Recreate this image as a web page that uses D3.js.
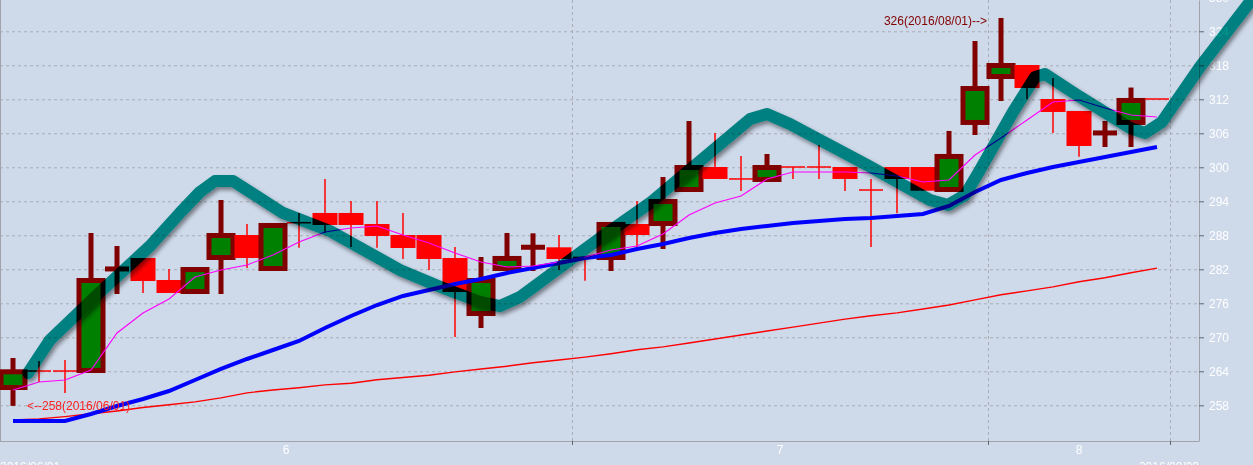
<!DOCTYPE html>
<html><head><meta charset="utf-8">
<script src="https://cdn.jsdelivr.net/npm/d3@7"></script>
<style>
html,body{margin:0;padding:0;background:#CED9EA;overflow:hidden;}
svg{display:block;font-family:"Liberation Sans",Arial,sans-serif;}
</style></head><body>
<svg id="chart" width="1253" height="465"></svg>
<script>
const dates = [
 "2016/06/01","2016/06/02","2016/06/03","2016/06/06","2016/06/07","2016/06/08","2016/06/09","2016/06/10",
 "2016/06/13","2016/06/14","2016/06/15","2016/06/16","2016/06/17","2016/06/20","2016/06/21","2016/06/22",
 "2016/06/23","2016/06/24","2016/06/27","2016/06/28","2016/06/29","2016/06/30",
 "2016/07/01","2016/07/04","2016/07/05","2016/07/06","2016/07/07","2016/07/08","2016/07/11","2016/07/12",
 "2016/07/13","2016/07/14","2016/07/15","2016/07/18","2016/07/19","2016/07/20","2016/07/21","2016/07/22",
 "2016/08/01","2016/08/02","2016/08/03","2016/08/04","2016/08/05","2016/08/08","2016/08/09"];
const openV  = [261.14,264.06,264.06,264.14,282.05,283.99,280.11,278.08,284.08,288.05,282.14,290.23,291.94,291.94,289.99,288.05,288.05,283.99,274.2,282.14,285.88,285.88,284.11,284.08,289.99,290.08,296.08,300.05,297.95,297.85,300.06,300.06,300.05,296.0,300.05,300.05,296.08,307.91,316.02,318.05,312.05,309.94,306.05,307.91,312.06];
const highV  = [266.35,265.82,265.99,288.41,286.11,283.99,282.05,281.96,294.23,289.99,289.73,291.94,297.94,294.05,294.05,291.94,288.05,285.94,284.17,288.41,288.35,288.05,284.2,289.91,294.05,298.29,308.17,306.05,301.99,302.35,300.06,303.93,300.05,297.94,300.05,300.05,306.41,322.29,326.35,318.05,315.76,309.94,308.17,314.07,312.06];
const lowV   = [257.9,262.11,260.17,264.14,277.64,277.82,277.82,278.08,277.64,282.23,282.14,285.81,288.41,285.94,285.81,283.82,281.88,270.05,271.64,282.14,281.7,281.88,279.99,281.7,285.94,285.58,296.08,297.94,295.82,297.85,297.94,297.94,295.82,285.94,291.88,295.87,296.08,305.7,311.7,312.05,306.05,301.88,303.58,303.58,312.05];
const closeV = [263.91,264.05,264.05,280.02,282.06,279.93,277.82,281.96,287.96,283.99,289.73,290.22,289.82,289.82,287.88,285.76,283.82,277.99,280.02,283.91,285.89,283.82,284.1,289.91,288.05,293.96,299.96,297.94,297.94,299.96,300.05,300.05,297.94,295.99,297.94,295.87,301.91,313.9,317.96,313.99,309.76,303.76,306.06,311.79,312.05];
const maShort = [260.70,262.11,262.46,264.23,270.76,274.29,276.76,280.64,281.88,282.76,284.53,286.82,288.59,289.29,289.64,288.05,286.64,284.88,283.29,282.41,282.58,283.29,284.17,285.41,286.11,288.23,291.58,293.70,294.93,297.93,299.17,299.17,299.17,299.0,298.46,297.40,297.76,302.17,305.17,308.35,311.52,311.88,310.47,309.23,308.88];
const maMid = [255.23,255.23,255.23,256.46,257.88,259.11,260.52,262.46,264.41,266.17,267.76,269.35,271.64,273.76,275.7,277.29,278.35,279.41,280.29,281.35,282.23,283.11,283.99,284.52,285.58,286.46,287.52,288.41,289.11,289.64,290.17,290.52,290.88,291.05,291.41,291.76,293.17,295.64,297.76,299.0,300.05,300.94,301.82,302.70,303.58];
const maLong = [255.4,255.6,256.0,256.5,257.0,257.6,258.1,258.6,259.3,260.2,260.7,261.1,261.6,261.9,262.5,262.9,263.3,263.9,264.4,264.9,265.5,266.0,266.5,267.1,267.8,268.3,269.0,269.7,270.4,271.1,271.8,272.5,273.2,273.8,274.3,275.0,275.7,276.6,277.5,278.2,278.9,279.8,280.5,281.4,282.2];
const trendIdx = [0.58,1.42,3.35,5.27,6.42,7.19,7.77,8.46,10.38,12.19,14.88,16.54,17.96,18.73,19.5,22.58,24.5,28.35,29.0,29.88,32.85,35.27,35.96,36.62,37.19,38.46,39.31,39.69,41.04,42.96,43.54,44.19,45.65,47.81];
const trendVal = [263.70,269.52,278.0,286.11,291.94,295.64,297.58,297.58,291.94,288.76,281.88,278.7,276.23,275.52,277.11,287.52,293.7,308.52,309.41,307.64,300.41,294.23,293.35,295.11,299.52,309.76,315.94,316.47,312.41,306.94,306.05,308.0,317.7,330.58];
const yTicks = [258,264,270,276,282,288,294,300,306,312,318,324,330];
const monthStarts = ["2016/06/01","2016/07/01","2016/08/01"];
const monthLabels = ["6","7","8"];

const svg = d3.select("#chart");
const plotR = 1199, plotB = 441;
const x = d3.scaleBand().domain(dates).range([0, 1170]).padding(0);
const bw = x.bandwidth();
const xc = d => x(d) + bw / 2;
const xi = d3.scaleLinear().domain([0, dates.length - 1]).range([xc(dates[0]), xc(dates[dates.length - 1])]);
const xb = d3.scaleLinear().domain([0, dates.length]).range([0, 1170]);
const y = d3.scaleLinear().domain([251.7, 329.52]).range([plotB, 0]);

// horizontal grid
const hg = svg.append("g").call(d3.axisLeft(y).tickValues(yTicks).tickSize(-plotR).tickFormat(""));
hg.select(".domain").remove();
hg.selectAll("line").attr("stroke", "#a9adb3").attr("stroke-dasharray", "3,3");

// vertical grid at month boundaries
const mIdx = monthStarts.map(d => dates.indexOf(d));
const bounds = mIdx.slice(1).concat([dates.length]);
const vg = svg.append("g").attr("transform", `translate(0,${plotB})`)
  .call(d3.axisBottom(xb).tickValues(bounds).tickSize(-plotB).tickFormat(""));
vg.select(".domain").remove();
vg.selectAll("line").attr("stroke", "#a9adb3").attr("stroke-dasharray", "3,3");

// frame
svg.append("line").attr("x1", 0.5).attr("x2", 0.5).attr("y1", 0).attr("y2", plotB).attr("stroke", "#a0a4aa");
svg.append("line").attr("x1", 0).attr("x2", plotR).attr("y1", plotB + 0.5).attr("y2", plotB + 0.5).attr("stroke", "#a0a4aa");

// bottom ticks
const bt = svg.append("g").attr("transform", `translate(0,${plotB})`)
  .call(d3.axisBottom(xb).tickValues(bounds).tickSize(4).tickFormat(""));
bt.select(".domain").remove();
bt.selectAll("line").attr("stroke", "#5f6670");

// month labels
const mCenters = mIdx.map((s, k) => (s + bounds[k]) / 2);
svg.append("g").selectAll("text").data(monthLabels).join("text")
  .attr("x", (d, k) => xb(mCenters[k])).attr("y", 454)
  .attr("text-anchor", "middle").attr("fill", "#ffffff").attr("font-size", 12).text(d => d);
svg.append("text").attr("x", 0).attr("y", 471).attr("fill", "#ffffff").attr("font-size", 12).text(dates[0]);
svg.append("text").attr("x", plotR).attr("y", 471).attr("text-anchor", "end").attr("fill", "#ffffff").attr("font-size", 12).text(dates[dates.length - 1]);

// right axis
const ra = svg.append("g").attr("transform", `translate(${plotR},0)`)
  .call(d3.axisRight(y).tickValues(yTicks).tickSize(5).tickPadding(5).tickSizeOuter(0));
ra.select(".domain").attr("stroke", "#a0a4aa");
ra.selectAll("line").attr("stroke", "#5f6670");
ra.selectAll("text").attr("fill", "#ffffff").attr("font-size", 12).attr("font-family", "Liberation Sans, Arial, sans-serif");

// long MA (red)
const idx = d3.range(dates.length);
const lineOf = arr => d3.line().x(i => xc(dates[i])).y(i => y(arr[i]));
svg.append("path").attr("d", lineOf(maLong)(idx)).attr("fill", "none").attr("stroke", "#ff0000").attr("stroke-width", 1.4);

// candles
const cg = svg.append("g");
idx.forEach(i => {
  const cx = xc(dates[i]);
  const o = openV[i], c = closeV[i], h = highV[i], l = lowV[i];
  const up = c >= o;
  const yTop = y(Math.max(o, c)), yBot = y(Math.min(o, c));
  const doji = (yBot - yTop) < 1;
  if (up) {
    if (y(l) - y(h) > 0.5)
      cg.append("line").attr("x1", cx).attr("x2", cx).attr("y1", y(h)).attr("y2", y(l)).attr("stroke", "#800000").attr("stroke-width", 5);
    if (doji)
      cg.append("line").attr("x1", cx - 12).attr("x2", cx + 12).attr("y1", y(c)).attr("y2", y(c)).attr("stroke", "#800000").attr("stroke-width", 5);
    else
      cg.append("rect").attr("x", cx - 12).attr("y", yTop).attr("width", 24).attr("height", yBot - yTop)
        .attr("fill", "#008000").attr("stroke", "#800000").attr("stroke-width", 5);
  } else {
    if (y(l) - y(h) > 0.5)
      cg.append("line").attr("x1", cx).attr("x2", cx).attr("y1", y(h)).attr("y2", y(l)).attr("stroke", "#ff0000").attr("stroke-width", 1.5);
    if (doji)
      cg.append("line").attr("x1", cx - 12).attr("x2", cx + 12).attr("y1", y(c)).attr("y2", y(c)).attr("stroke", "#ff0000").attr("stroke-width", 1.5);
    else
      cg.append("rect").attr("x", cx - 12.5).attr("y", yTop).attr("width", 25).attr("height", yBot - yTop).attr("fill", "#ff0000");
  }
});

// mid MA (blue) and short MA (magenta)
svg.append("path").attr("d", lineOf(maMid)(idx)).attr("fill", "none").attr("stroke", "#0000ff").attr("stroke-width", 4);
svg.append("path").attr("d", lineOf(maShort)(idx)).attr("fill", "none").attr("stroke", "#ff00ff").attr("stroke-width", 1.1);

// annotations
const iMin = d3.minIndex(lowV), iMax = d3.maxIndex(highV);
svg.append("text").attr("x", xc(dates[iMin]) + 14).attr("y", y(lowV[iMin]) + 4.5)
  .attr("fill", "#ff2020").attr("font-size", 12).text(`<--${Math.round(lowV[iMin])}(${dates[iMin]})`);
svg.append("text").attr("x", xc(dates[iMax]) - 14).attr("y", y(highV[iMax]) + 7)
  .attr("text-anchor", "end").attr("fill", "#800000").attr("font-size", 12).text(`${Math.round(highV[iMax])}(${dates[iMax]})-->`);

// trend line (teal) with shadow, multiplied over everything
const defs = svg.append("defs");
const f = defs.append("filter").attr("id", "sh").attr("x", "-5%").attr("y", "-10%").attr("width", "110%").attr("height", "125%");
f.append("feDropShadow").attr("dx", 2).attr("dy", 3).attr("stdDeviation", 2).attr("flood-color", "#000").attr("flood-opacity", 0.45);
const tIdx = d3.range(trendIdx.length);
svg.append("path")
  .attr("d", d3.line().x(k => xi(trendIdx[k])).y(k => y(trendVal[k]))(tIdx))
  .attr("fill", "none").attr("stroke", "rgb(0,150,140)").attr("stroke-width", 12)
  .attr("stroke-linejoin", "round").attr("stroke-linecap", "round")
  .attr("filter", "url(#sh)").style("mix-blend-mode", "multiply");
</script>
</body></html>
